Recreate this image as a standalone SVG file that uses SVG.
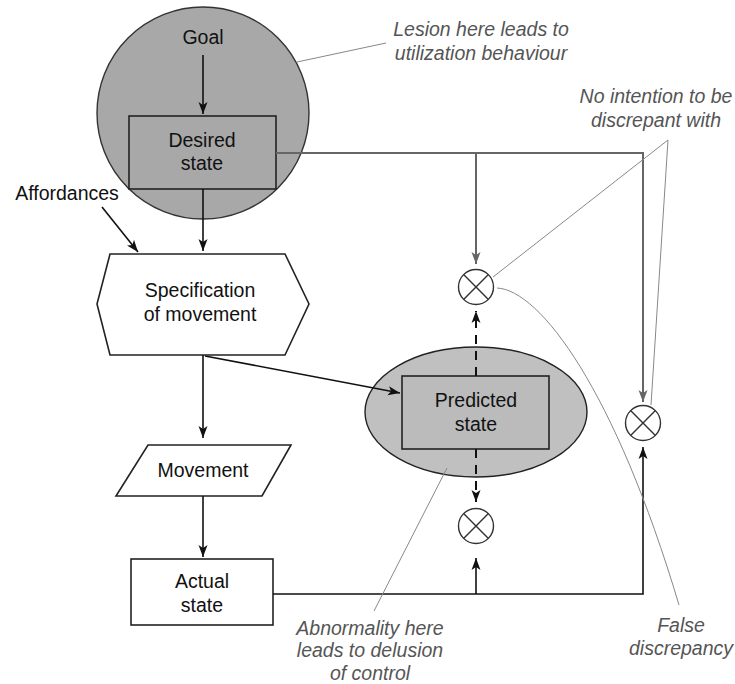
<svg xmlns="http://www.w3.org/2000/svg" width="735" height="684" viewBox="0 0 735 684">
<defs>
<style>
.lbl{font-family:"Liberation Sans",Arial,sans-serif;font-size:19.5px;fill:#111;text-anchor:middle}
.note{font-family:"Liberation Sans",Arial,sans-serif;font-size:19.5px;font-style:italic;fill:#555;text-anchor:middle}
.shape{stroke:#222;stroke-width:1.6}
.conn{fill:none;stroke:#111;stroke-width:1.6}
.gconn{fill:none;stroke:#666;stroke-width:2}
.dash{fill:none;stroke:#111;stroke-width:2;stroke-dasharray:9 7}
.ann{fill:none;stroke:#888;stroke-width:1}
.cmp circle{fill:#fff;stroke:#333;stroke-width:1.4}
.cmp line{stroke:#333;stroke-width:1.4}
</style>
<marker id="ah" markerUnits="userSpaceOnUse" markerWidth="14" markerHeight="10" refX="12" refY="5" orient="auto">
<path d="M0,0.5 L12,5 L0,9.5 L3,5 z" fill="#111"/>
</marker>
<marker id="ahg" markerUnits="userSpaceOnUse" markerWidth="14" markerHeight="10" refX="12" refY="5" orient="auto">
<path d="M0,0.5 L12,5 L0,9.5 L3,5 z" fill="#666"/>
</marker>
</defs>
<rect width="735" height="684" fill="#fff"/>

<g id="lesion-zone">
<circle cx="203" cy="113" r="106" fill="#a8a8a8" stroke="#333" stroke-width="1.4"/>
</g>
<g id="goal"><text class="lbl" x="203" y="44">Goal</text></g>
<g id="desired-state">
<rect class="shape" x="129" y="116" width="147" height="73" fill="#a8a8a8"/>
<text class="lbl" x="202" y="147">Desired</text>
<text class="lbl" x="202" y="170">state</text>
</g>
<g id="affordances"><text class="lbl" x="67" y="200">Affordances</text></g>
<g id="specification">
<polygon class="shape" points="110,254 285,254 309,304 285,355 110,355 97,304" fill="#fff"/>
<text class="lbl" x="200" y="297">Specification</text>
<text class="lbl" x="200" y="321">of movement</text>
</g>
<g id="movement">
<polygon class="shape" points="148,445 291,445 262,496 116,496" fill="#fff"/>
<text class="lbl" x="203" y="477">Movement</text>
</g>
<g id="actual-state">
<rect class="shape" x="131" y="559" width="142" height="66" fill="#fff"/>
<text class="lbl" x="202" y="588">Actual</text>
<text class="lbl" x="202" y="612">state</text>
</g>
<g id="prediction-zone">
<ellipse cx="476" cy="412" rx="111" ry="65" fill="#c0c0c0" stroke="#222" stroke-width="1.4"/>
</g>
<g id="predicted-state">
<rect class="shape" x="402" y="376" width="147" height="73" fill="#bbbbbb"/>
<text class="lbl" x="476" y="407">Predicted</text>
<text class="lbl" x="476" y="431">state</text>
</g>
<g id="comparator-top" class="cmp">
<circle cx="476" cy="287" r="17.5"/>
<line x1="463.6" y1="274.6" x2="488.4" y2="299.4"/><line x1="488.4" y1="274.6" x2="463.6" y2="299.4"/>
</g>
<g id="comparator-right" class="cmp">
<circle cx="643" cy="423" r="17.5"/>
<line x1="630.6" y1="410.6" x2="655.4" y2="435.4"/><line x1="655.4" y1="410.6" x2="630.6" y2="435.4"/>
</g>
<g id="comparator-bottom" class="cmp">
<circle cx="476" cy="526" r="17.5"/>
<line x1="463.6" y1="513.6" x2="488.4" y2="538.4"/><line x1="488.4" y1="513.6" x2="463.6" y2="538.4"/>
</g>

<g id="connectors">
<path class="conn" d="M203,55 L203,114" marker-end="url(#ah)"/>
<path class="conn" d="M203,189 L203,251" marker-end="url(#ah)"/>
<path class="conn" d="M102,207 L138,252" marker-end="url(#ah)"/>
<path class="conn" d="M203,355 L203,438" marker-end="url(#ah)"/>
<path class="conn" d="M203,496 L203,557" marker-end="url(#ah)"/>
<path class="conn" d="M205,356 L400,393" marker-end="url(#ah)"/>
<path class="gconn" d="M276,153 L643,153 L643,402" marker-end="url(#ahg)"/>
<path class="gconn" d="M476,153 L476,264" marker-end="url(#ahg)"/>
<path class="conn" d="M273,594 L643,594 L643,447" marker-end="url(#ah)"/>
<path class="conn" d="M476,594 L476,558" marker-end="url(#ah)"/>
<path class="dash" d="M476,376 L476,311" marker-end="url(#ah)"/>
<path class="dash" d="M476,449 L476,502" marker-end="url(#ah)"/>
</g>

<g id="annotations">
<path class="ann" d="M297,62 L386,43"/>
<path class="ann" d="M493,277 L668,140 L651,405"/>
<path class="ann" d="M497,288 C540,290 615,390 679,605"/>
<path class="ann" d="M447,468 L374,611"/>
<text class="note" x="481" y="36">Lesion here leads to</text>
<text class="note" x="481" y="60">utilization behaviour</text>
<text class="note" x="656" y="103">No intention to be</text>
<text class="note" x="656" y="127">discrepant with</text>
<text class="note" x="370" y="635">Abnormality here</text>
<text class="note" x="370" y="657">leads to delusion</text>
<text class="note" x="370" y="680">of control</text>
<text class="note" x="681" y="632">False</text>
<text class="note" x="681" y="655">discrepancy</text>
</g>
</svg>
